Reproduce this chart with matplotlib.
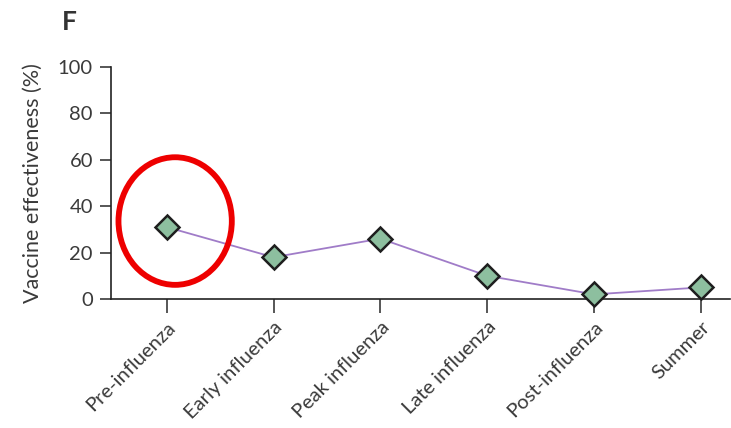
import matplotlib
matplotlib.use("Agg")
import matplotlib.pyplot as plt
from matplotlib.patches import Ellipse

categories = ["Pre-influenza", "Early influenza", "Peak influenza",
              "Late influenza", "Post-influenza", "Summer"]
effectiveness = [31, 18, 26, 10, 2, 5]
y_ticks = [0, 20, 40, 60, 80, 100]

plt.rcParams["font.family"] = ["Lato", "DejaVu Sans"]

fig = plt.figure(figsize=(7.31, 4.28), dpi=100)
ax = fig.add_axes([111 / 731, 129 / 428, 619 / 731, 232 / 428])

x = list(range(len(categories)))
ax.plot(x, effectiveness, color="#a07cc8", lw=1.3, zorder=2)
ax.plot(x, effectiveness, linestyle="none", marker="D", markersize=12,
        markerfacecolor="#8dbf9f", markeredgecolor="#1e1e1e",
        markeredgewidth=1.8, zorder=3, clip_on=False)

# highlight around the first period
ax.add_patch(Ellipse((0.08, effectiveness[0] + 2.6), 1.06, 55,
                     fill=False, edgecolor="#ee0000", lw=4.2,
                     clip_on=False, zorder=4))

ax.set_xlim(-0.52, 5.27)
ax.set_ylim(0, 100)
ax.set_yticks(y_ticks)
ax.set_xticks(x)
ax.set_xticklabels(categories, rotation=45, ha="right",
                   rotation_mode="anchor", fontsize=14.5, color="#3a3a3a")
ax.tick_params(axis="y", labelsize=14.5, length=8, width=1.2,
               colors="#3a3a3a", pad=5)
ax.tick_params(axis="x", length=10, width=1.2, pad=4, colors="#3a3a3a")

for side in ("top", "right"):
    ax.spines[side].set_visible(False)
for side in ("left", "bottom"):
    ax.spines[side].set_linewidth(1.2)
    ax.spines[side].set_color("#222222")

ax.set_ylabel("Vaccine effectiveness (%)", fontsize=15.5, color="#3a3a3a",
              labelpad=11)

fig.text(62 / 731, 1 - 30 / 428, "F", fontsize=19, color="#333333",
         fontweight="bold")

fig.savefig("out.png", dpi=100)
